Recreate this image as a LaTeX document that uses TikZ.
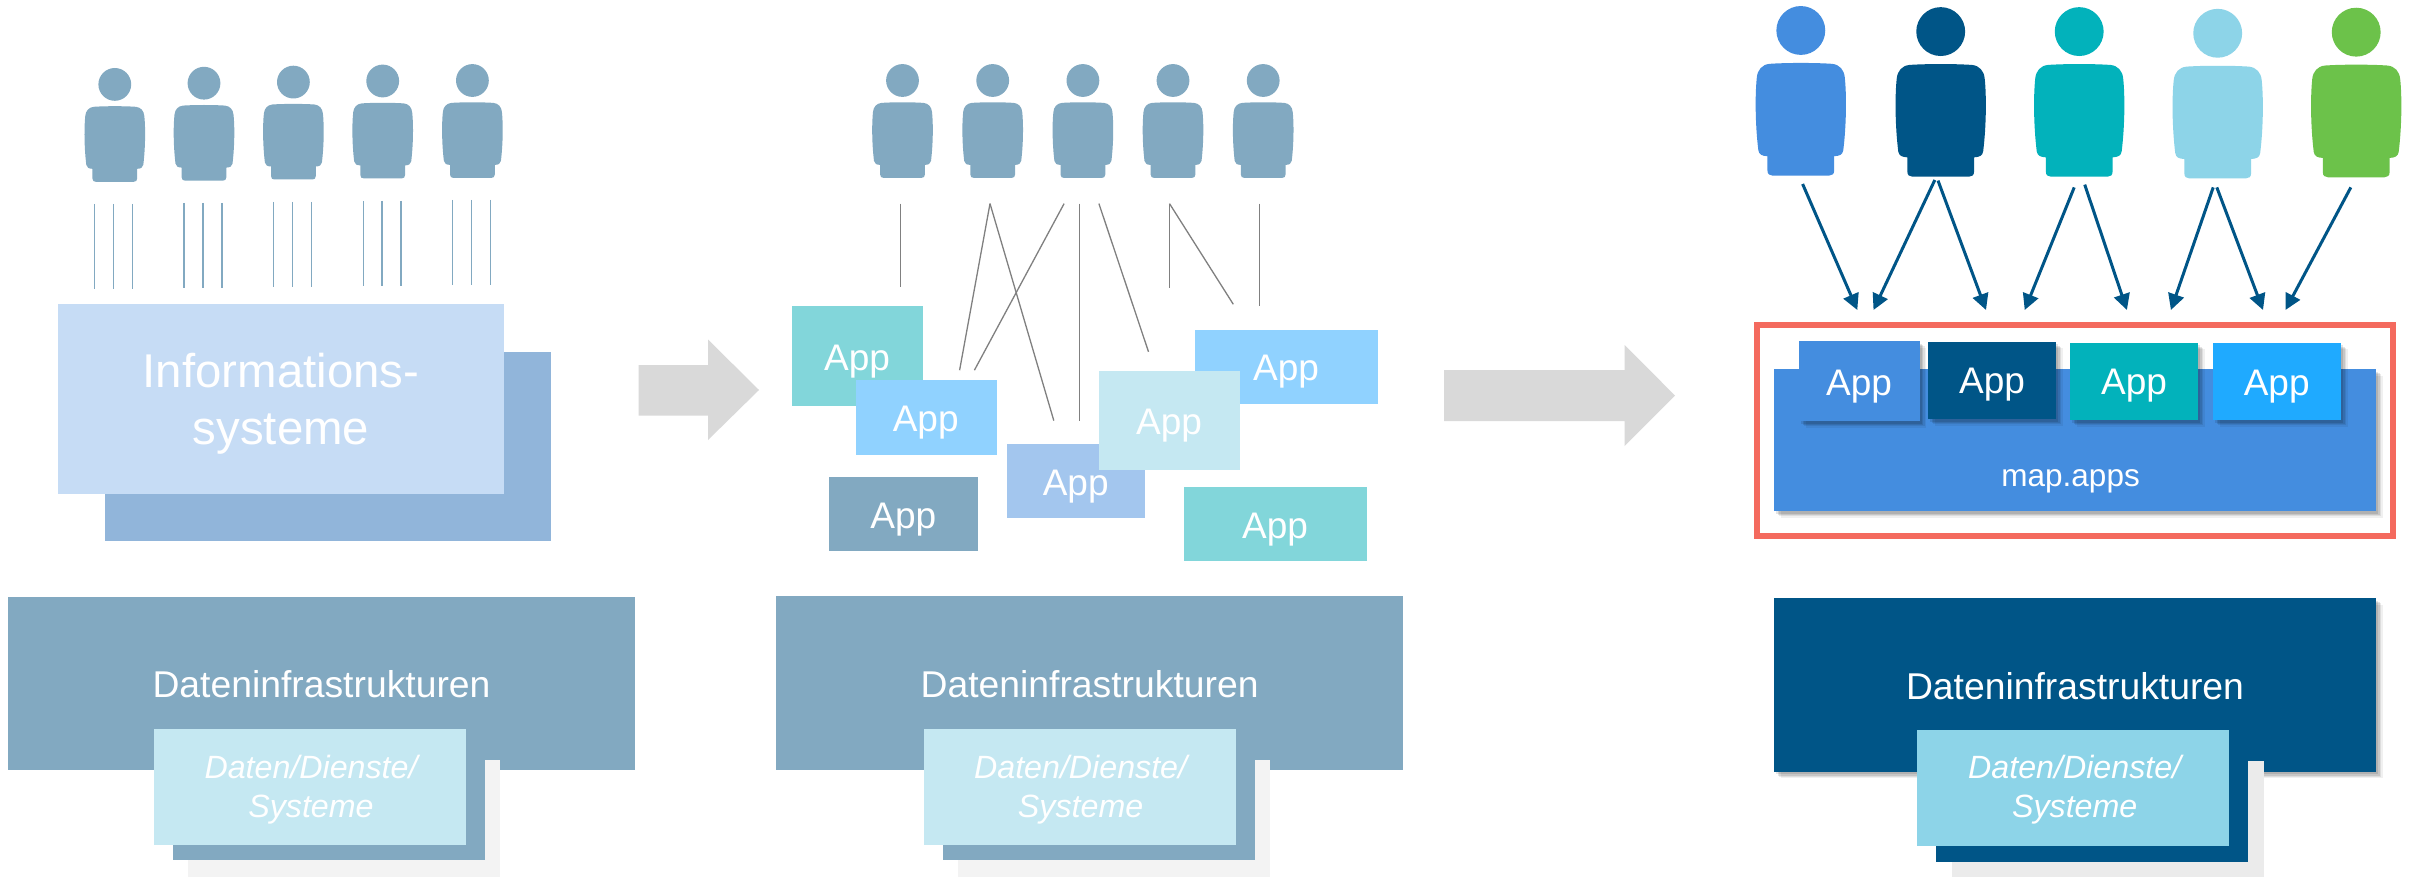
\documentclass[tikz,border=0pt]{standalone}
\usepackage{fontspec}
\setmainfont{Liberation Sans}
\usetikzlibrary{fit,arrows.meta}
\definecolor{baseblue}{HTML}{82A9C1}
\definecolor{infofront}{HTML}{C6DCF5}
\definecolor{infoback}{HTML}{91B5DA}
\definecolor{paleblue}{HTML}{C5E8F2}
\definecolor{softgrey}{HTML}{F3F3F3}
\definecolor{softgreyb}{HTML}{EBEBEB}
\definecolor{arrowgrey}{HTML}{D9D9D9}
\definecolor{teala}{HTML}{82D6DA}
\definecolor{skya}{HTML}{90D2FF}
\definecolor{perib}{HTML}{A3C6EE}
\definecolor{mapblue}{HTML}{448DDF}
\definecolor{navy}{HTML}{005587}
\definecolor{tealb}{HTML}{02B2BB}
\definecolor{skyb}{HTML}{1FAAFF}
\definecolor{icepers}{HTML}{8DD4E8}
\definecolor{greenpers}{HTML}{6CC24A}
\definecolor{framered}{HTML}{F46A5E}
\definecolor{linegrey}{HTML}{808080}
\tikzset{
  bx/.style={inner sep=0pt,outer sep=0pt,fill=#1,draw=none},
  shd/.style={preaction={fill=black,fill opacity=.10,transform canvas={shift={(2,2.5)}}},
              preaction={fill=black,fill opacity=.10,transform canvas={shift={(3.5,4)}}},
              preaction={fill=black,fill opacity=.08,transform canvas={shift={(5,5)}}},
              preaction={fill=black,fill opacity=.06,transform canvas={shift={(6.5,6.5)}}}},
  lab/.style={text=white,inner sep=0pt,outer sep=0pt,anchor=base},
  fbig/.style={font=\fontsize{47.4}{57}\selectfont},
  fmid/.style={font=\fontsize{37.3}{44}\selectfont},
  fapp/.style={font=\fontsize{37}{44}\selectfont},
  fmap/.style={font=\fontsize{31.5}{38}\selectfont},
  fdata/.style={font=\fontsize{32.2}{39}\selectfont\itshape,align=center,text=white,inner sep=0pt,outer sep=0pt},
  vline/.style={draw=baseblue,line width=1.5pt},
  gline/.style={draw=linegrey,line width=1.3pt},
  parrow/.style={draw=navy,line width=3pt,-{Triangle[width=16pt,length=16pt]}},
  pics/person/.style={code={
    \fill[#1] (0,-97.4) ellipse [x radius=16.4,y radius=16.4];
    \fill[#1] (-21,-75) .. controls (-26,-74.5) and (-29,-71) .. (-29.5,-66)
      .. controls (-30.7,-55) and (-30.7,-35) .. (-28.5,-17)
      .. controls (-28,-14) and (-26,-13.2) .. (-22.4,-13)
      -- (-22.4,-3.5) .. controls (-22.4,-1) and (-21,0) .. (-19,0)
      -- (19,0) .. controls (21,0) and (22.4,-1) .. (22.4,-3.5)
      -- (22.4,-13) .. controls (26,-13.2) and (28,-14) .. (28.5,-17)
      .. controls (30.7,-35) and (30.7,-55) .. (29.5,-66)
      .. controls (29,-71) and (26,-74.5) .. (21,-75)
      .. controls (10,-75.8) and (-10,-75.8) .. (-21,-75) -- cycle;
  }}
}
\newcommand\rbox[6]{\node[#2,fit={(#3,#4)(#5,#6)}] (#1) {};}
\newcommand\lnk[6]{\coordinate (#1a) at (#3,#4);\coordinate (#1b) at (#5,#6);\draw[#2] (#1a) -- (#1b);}
\begin{document}
\begin{tikzpicture}[x=1pt,y=-1pt]
\useasboundingbox (0,0) rectangle (2412,877);
\fill[white] (0,0) rectangle (2412,877);

% ---------- left panel
\foreach \n/\cx/\by in {1/114.8/181.8,2/204/180.6,3/293.4/179.5,4/382.7/178.4,5/472.4/177.9}
  \pic (la\n) at (\cx,\by) {person=baseblue};
\lnk{la}{vline}{94.6}{204}{94.6}{289}
\lnk{lb}{vline}{113.5}{204}{113.5}{289}
\lnk{lc}{vline}{132.7}{204}{132.7}{289}
\lnk{ld}{vline}{184.2}{203}{184.2}{288}
\lnk{le}{vline}{203}{203}{203}{288}
\lnk{lf}{vline}{222}{203}{222}{288}
\lnk{lg}{vline}{273.5}{202}{273.5}{287}
\lnk{lh}{vline}{292.3}{202}{292.3}{287}
\lnk{li}{vline}{311.7}{202}{311.7}{287}
\lnk{lj}{vline}{363.3}{200.8}{363.3}{285.8}
\lnk{lk}{vline}{382}{200.8}{382}{285.8}
\lnk{ll}{vline}{401}{200.8}{401}{285.8}
\lnk{lm}{vline}{452.6}{200}{452.6}{285}
\lnk{ln}{vline}{471.4}{200}{471.4}{285}
\lnk{lo}{vline}{490.3}{200}{490.3}{285}

\rbox{infob}{bx=infoback}{105}{352}{551}{541}
\rbox{infof}{bx=infofront}{58}{304}{504}{493.5}
\node[lab,fbig] (infot1) at (281,387) {Informations-};
\node[lab,fbig] (infot2) at (281,444.6) {systeme};

\fill[arrowgrey] (638.5,365) -- (708,365) -- (708,339.5) -- (759,390) -- (708,440) -- (708,415.5) -- (638.5,415.5) -- cycle;

\rbox{lbase}{bx=baseblue}{8}{597}{635}{770}
\node[lab,fmid] (lbaset) at (321.5,697) {Dateninfrastrukturen};
\rbox{lgrey}{bx=softgrey}{188}{760}{500}{877}
\rbox{lmid}{bx=baseblue}{173}{750}{485}{860}
\rbox{lfront}{bx=paleblue}{154}{729}{466}{844.5}
\node[fdata] (ldata) at (311,790) {Daten/Dienste/\\Systeme};

% ---------- middle panel
\foreach \n/\cx in {1/902.5,2/992.7,3/1082.9,4/1173,5/1263.2}
  \pic (mi\n) at (\cx,177.9) {person=baseblue};
\lnk{ma}{gline}{900.3}{203.6}{900.3}{287.5}
\lnk{mb}{gline}{990}{203.6}{959.6}{370.2}
\lnk{mc}{gline}{990}{203.6}{1053.8}{420.6}
\lnk{md}{gline}{1064.1}{203.6}{974.4}{370.2}
\lnk{me}{gline}{1079.7}{203.6}{1079.7}{420.6}
\lnk{mf}{gline}{1098.9}{203.6}{1148.5}{351.8}
\lnk{mg}{gline}{1169.5}{203.6}{1169.5}{288}
\lnk{mh}{gline}{1169.5}{203.6}{1233.3}{304.3}
\lnk{mi}{gline}{1259.2}{203.6}{1259.2}{306}

\rbox{aa}{bx=teala}{791.8}{306}{923}{406}
\node[lab,fapp] (aat) at (857,370) {App};
\rbox{ab}{bx=skya}{856}{380}{997}{454.7}
\node[lab,fapp] (abt) at (925.7,431) {App};
\rbox{ac}{bx=baseblue}{828.8}{477}{978}{551}
\node[lab,fapp] (act) at (903.4,528) {App};
\rbox{ad}{bx=perib}{1007}{444}{1145}{518}
\rbox{af}{bx=skya}{1195}{330}{1378}{404}
\node[lab,fapp] (aft) at (1286,380) {App};
\rbox{ae}{bx=paleblue}{1099}{371}{1240}{470}
\node[lab,fapp] (aet) at (1169,434.6) {App};
\node[lab,fapp] (adt) at (1075.7,495) {App};
\rbox{ag}{bx=teala}{1184}{487}{1367}{561}
\node[lab,fapp] (agt) at (1275,538) {App};

\fill[arrowgrey] (1444,370) -- (1624.7,370) -- (1624.7,345) -- (1675,395.6) -- (1624.7,446) -- (1624.7,421) -- (1444,421) -- cycle;

\rbox{mbase}{bx=baseblue}{776}{596}{1403}{770}
\node[lab,fmid] (mbaset) at (1089.6,697) {Dateninfrastrukturen};
\rbox{mgrey}{bx=softgrey}{958}{760}{1270}{877}
\rbox{mmid}{bx=baseblue}{943}{750}{1255}{860}
\rbox{mfront}{bx=paleblue}{924}{729}{1236}{844.5}
\node[fdata] (mdata) at (1080.6,790) {Daten/Dienste/\\Systeme};

% ---------- right panel
\pic[scale=1.49] (ra) at (1800.8,175.6) {person=mapblue};
\pic[scale=1.49] (rb) at (1940.7,176.7) {person=navy};
\pic[scale=1.49] (rc) at (2079.2,176.7) {person=tealb};
\pic[scale=1.49] (rd) at (2217.7,178.4) {person=icepers};
\pic[scale=1.49] (re) at (2356.2,177.3) {person=greenpers};

\lnk{pa}{parrow}{1802.6}{184}{1857.3}{310}
\lnk{pb}{parrow}{1934.8}{180}{1873.5}{310}
\lnk{pc}{parrow}{1938}{180.6}{1986}{310}
\lnk{pd}{parrow}{2074.2}{187.4}{2024.7}{310}
\lnk{pe}{parrow}{2084.7}{184.6}{2126.9}{310}
\lnk{pf}{parrow}{2213.2}{187.4}{2170.9}{310}
\lnk{pg}{parrow}{2216.8}{187.4}{2263}{310}
\lnk{ph}{parrow}{2350.8}{187.4}{2285.4}{310}

\node[draw=framered,line width=6pt,inner sep=0pt,outer sep=0pt,fit={(1757,324.6)(2392.7,535.6)}] (frame) {};

\rbox{mapb}{bx=mapblue,shd}{1774}{369}{2376.2}{511}
\node[lab,fmap] (mapt) at (2070.6,486.6) {map.apps};
\rbox{ra1}{bx=mapblue,shd}{1799}{341}{1919.8}{421}
\node[lab,fapp] (ra1t) at (1859,395) {App};
\rbox{ra2}{bx=navy,shd}{1928}{341.7}{2056}{419}
\node[lab,fapp] (ra2t) at (1992,393.7) {App};
\rbox{ra3}{bx=tealb,shd}{2070}{342.8}{2198}{420}
\node[lab,fapp] (ra3t) at (2134,394.3) {App};
\rbox{ra4}{bx=skyb,shd}{2213}{342.8}{2341}{420}
\node[lab,fapp] (ra4t) at (2276.7,395.4) {App};

\rbox{rbase}{bx=navy,shd}{1774}{598}{2376.2}{771.8}
\node[lab,fmid] (rbaset) at (2075,699) {Dateninfrastrukturen};
\rbox{rgrey}{bx=softgreyb}{1952}{761}{2264}{877}
\rbox{rmid}{bx=navy}{1936}{750}{2248}{862}
\rbox{rfront}{bx=icepers}{1917}{730}{2229}{846}
\node[fdata] (rdata) at (2074.7,790) {Daten/Dienste/\\Systeme};
\end{tikzpicture}
\end{document}
